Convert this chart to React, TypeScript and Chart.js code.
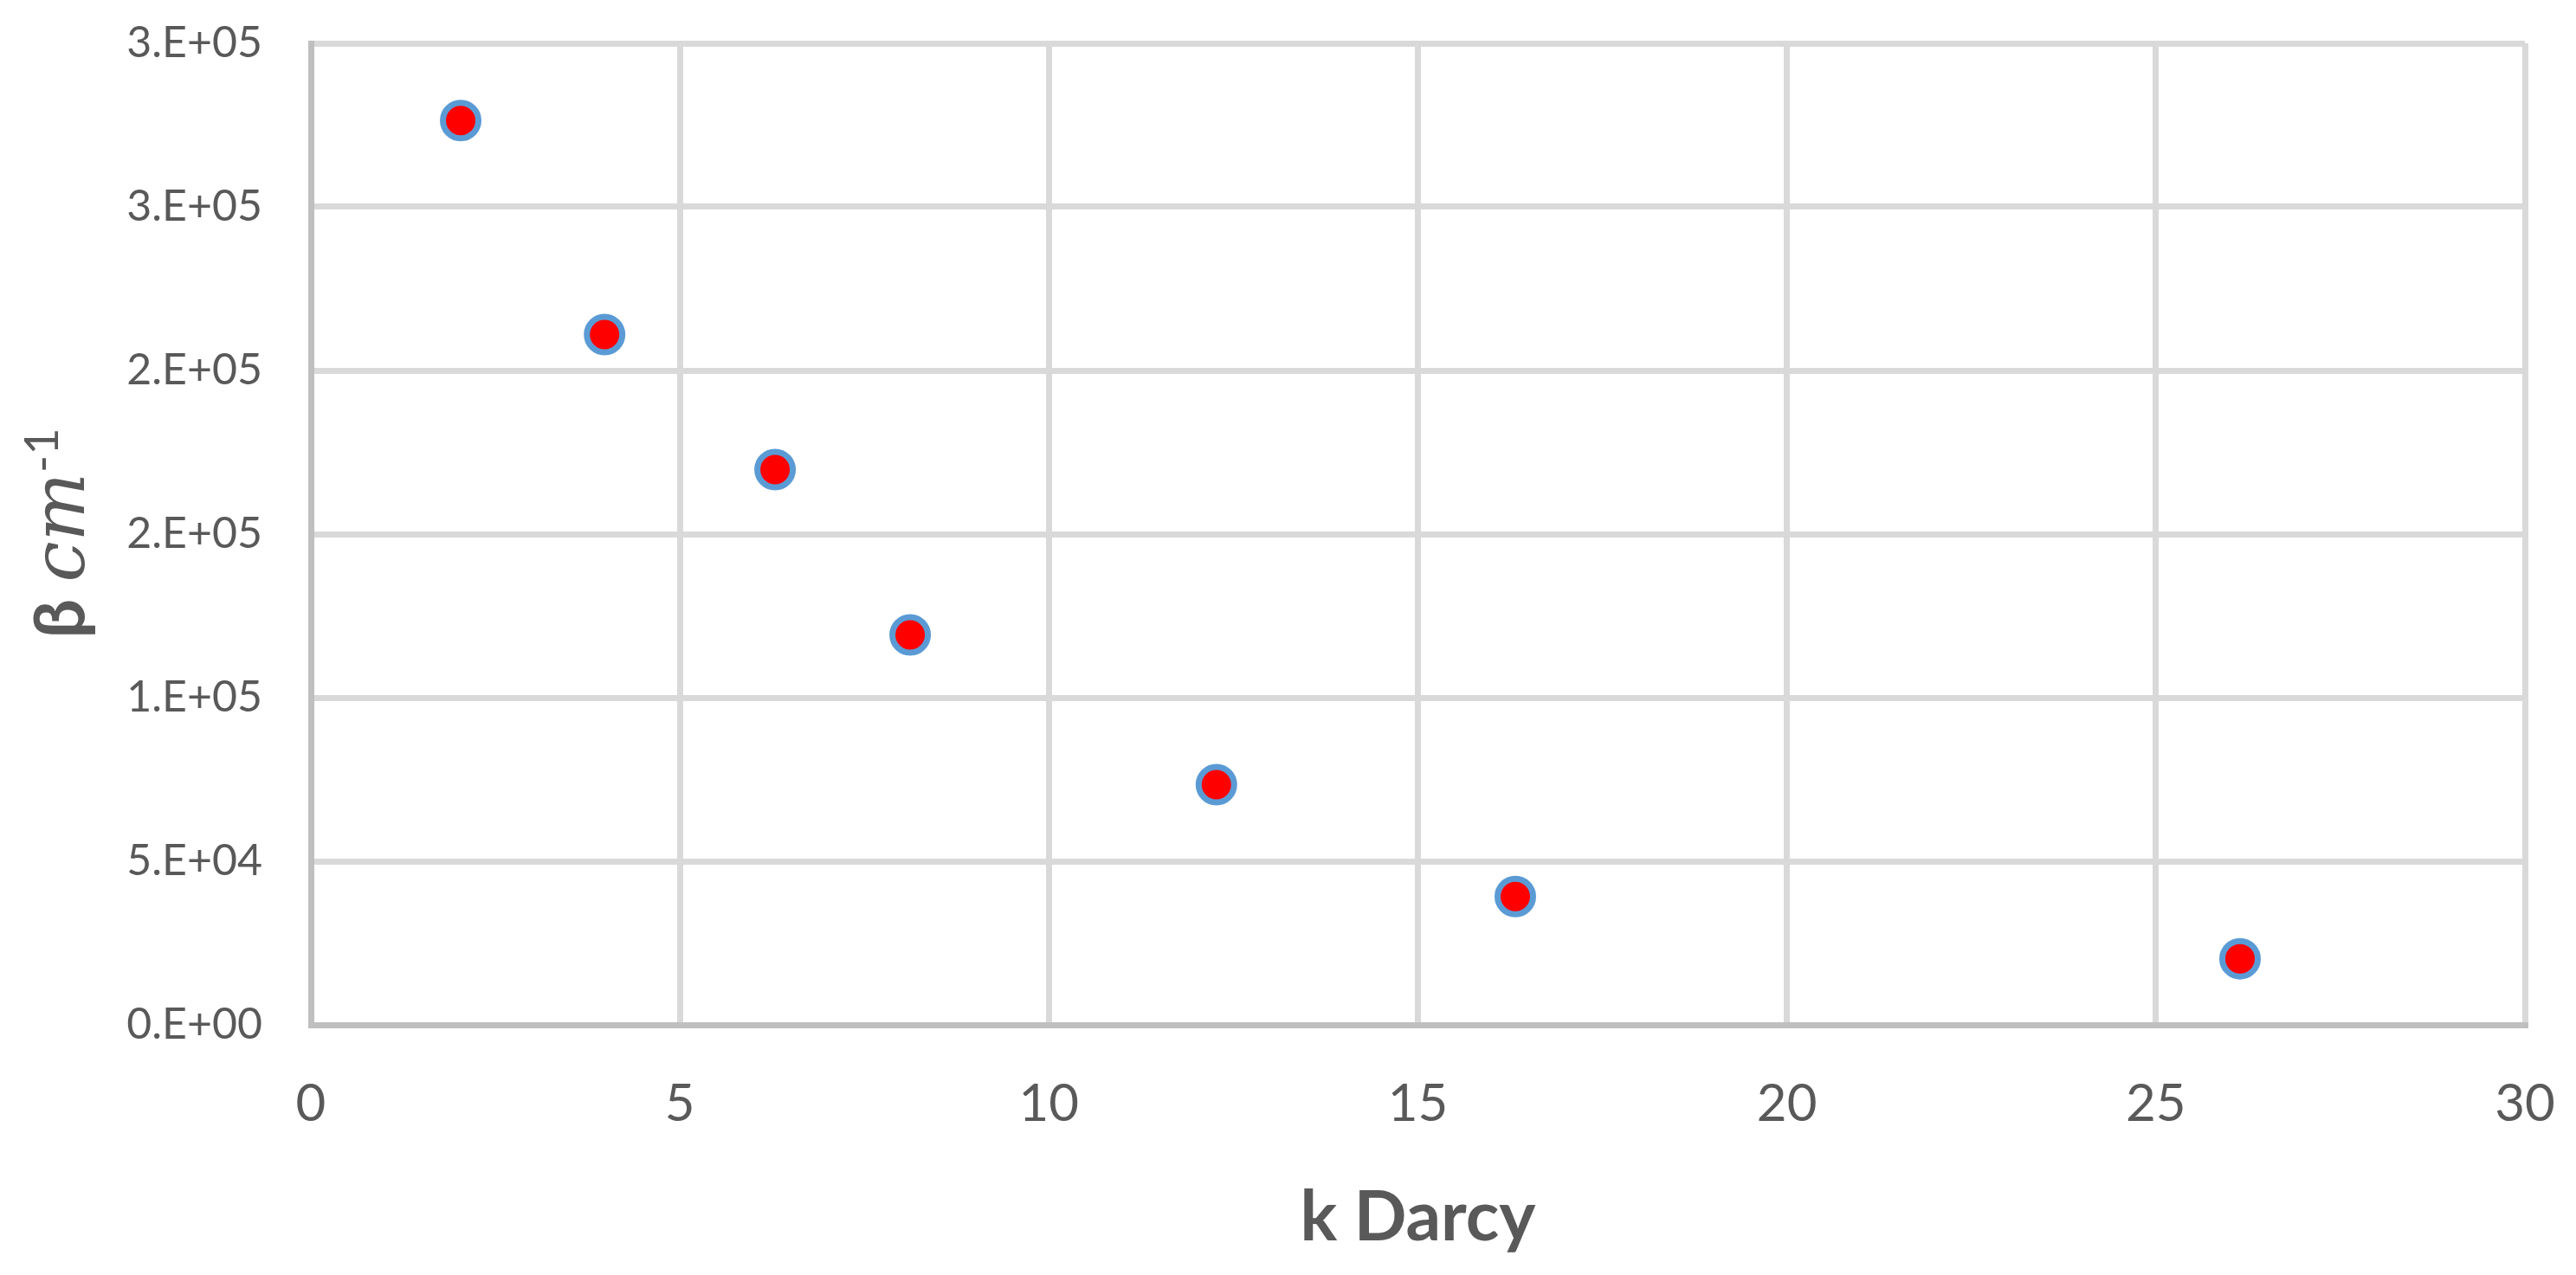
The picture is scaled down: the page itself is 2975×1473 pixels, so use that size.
import React, { useEffect, useRef } from "react";
import { Chart, registerables } from "chart.js";

Chart.register(...registerables);

// Data
const kDarcy = [2.03, 3.98, 6.29, 8.12, 12.27, 16.32, 26.14];
const betaPerCm = [276400, 211000, 169700, 119200, 73400, 39200, 20200];

const xMin = 0;
const xMax = 30;
const xStep = 5;
const yMin = 0;
const yMax = 300000;
const yStep = 50000;

const xTitle = "k Darcy";
const yTitleParts = ["β ", "cm", "-1"];

const TEXT = "#595959";

function excelSci(v: number): string {
  if (v === 0) return "0.E+00";
  const s = v.toExponential(0); // e.g. "3e+5"
  const [m, e] = s.split("e");
  const sign = e.startsWith("-") ? "-" : "+";
  const digits = e.replace(/[+-]/, "").padStart(2, "0");
  return `${m}.E${sign}${digits}`;
}

const titlesPlugin = {
  id: "customTitles",
  afterDraw(chart: any) {
    const { ctx, chartArea } = chart;
    ctx.save();
    ctx.fillStyle = TEXT;
    // x title
    ctx.font = "bold 80px Lato";
    ctx.textAlign = "center";
    ctx.textBaseline = "alphabetic";
    ctx.fillText(xTitle, (chartArea.left + chartArea.right) / 2, 1433);

    // y title: rotated, mixed styles
    const fonts = ["bold 80px Lato", "italic 84px 'DejaVu Serif'", "54px Lato"];
    const rise = [0, 0, 30];
    const widths = yTitleParts.map((t, i) => {
      ctx.font = fonts[i];
      return ctx.measureText(t).width;
    });
    const total = widths.reduce((a, b) => a + b, 0);
    ctx.translate(97, 616);
    ctx.rotate(-Math.PI / 2);
    ctx.textAlign = "left";
    let x = -total / 2;
    yTitleParts.forEach((t, i) => {
      ctx.font = fonts[i];
      ctx.fillText(t, x, -rise[i]);
      x += widths[i];
    });
    ctx.restore();
  },
};

export default function App() {
  const ref = useRef<HTMLCanvasElement | null>(null);

  useEffect(() => {
    if (!ref.current) return;
    const chart = new Chart(ref.current, {
      type: "scatter",
      data: {
        datasets: [
          {
            data: kDarcy.map((k, i) => ({ x: k, y: betaPerCm[i] })),
            backgroundColor: "#FF0000",
            borderColor: "#5B9BD5",
            borderWidth: 7,
            pointRadius: 20.5,
            pointHoverRadius: 20.5,
            clip: false,
          },
        ],
      },
      options: {
        responsive: false,
        animation: false,
        devicePixelRatio: 1,
        layout: { autoPadding: false, padding: { left: 0, right: 59, top: 50, bottom: 0 } },
        plugins: {
          legend: { display: false },
          tooltip: { enabled: false },
          title: { display: false },
        },
        scales: {
          x: {
            type: "linear",
            min: xMin,
            max: xMax,
            afterFit: (s: any) => {
              s.height = 289;
              s.paddingLeft = 0;
              s.paddingRight = 0;
            },
            ticks: {
              stepSize: xStep,
              color: TEXT,
              font: { family: "Lato", size: 60 },
              padding: 56,
              maxRotation: 0,
            },
            grid: { color: "#d9d9d9", lineWidth: 7, drawTicks: false },
            border: { color: "#bfbfbf", width: 7 },
          },
          y: {
            type: "linear",
            min: yMin,
            max: yMax,
            afterFit: (s: any) => {
              s.width = 359;
              s.paddingTop = 0;
              s.paddingBottom = 0;
            },
            ticks: {
              stepSize: yStep,
              color: TEXT,
              font: { family: "Lato", size: 50 },
              padding: 56,
              callback: (v: any) => excelSci(Number(v)),
            },
            grid: { color: "#d9d9d9", lineWidth: 7, drawTicks: false },
            border: { color: "#bfbfbf", width: 7 },
          },
        },
      },
      plugins: [titlesPlugin],
    });
    return () => chart.destroy();
  }, []);

  return (
    <div style={{ position: "absolute", left: 0, top: 0, width: 2975, height: 1473, background: "#fff" }}>
      <canvas ref={ref} width={2975} height={1473} />
    </div>
  );
}
